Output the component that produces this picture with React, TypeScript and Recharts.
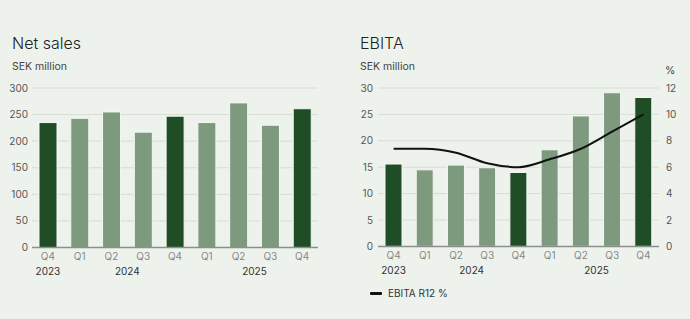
import React from 'react';
import { ComposedChart, Bar, Line, Cell, XAxis, YAxis, CartesianGrid, Legend } from 'recharts';

const quarters = ['Q4', 'Q1', 'Q2', 'Q3', 'Q4', 'Q1', 'Q2', 'Q3', 'Q4'];
const netSales = [235, 243, 255, 217, 247, 235, 272, 230, 261];
const ebita = [15.6, 14.5, 15.4, 14.9, 14.0, 18.3, 24.7, 29.1, 28.2];
const ebitaR12 = [7.4, 7.4, 7.1, 6.3, 6.0, 6.6, 7.4, 8.7, 10.0];
const yearGroups = [
  { year: '2023', first: 0, last: 0 },
  { year: '2024', first: 1, last: 4 },
  { year: '2025', first: 5, last: 8 },
];
const salesTicks = [0, 50, 100, 150, 200, 250, 300];
const ebitaTicks = [0, 5, 10, 15, 20, 25, 30];
const pctTicks = [0, 2, 4, 6, 8, 10, 12];

const salesData = quarters.map((q, i) => ({ quarter: q, value: netSales[i] }));
const ebitaData = quarters.map((q, i) => ({ quarter: q, value: ebita[i], pct: ebitaR12[i] }));

const BG = '#eef2ec';
const DARK = '#1f4d25';
const LIGHT = '#7d9a7e';
const FONT = 'Inter, "Noto Sans", sans-serif';

function makeTick(step: number) {
  return function QuarterTick(props: any) {
    const { x, y, payload, index } = props;
    const group = yearGroups.find((g) => g.first === index);
    return (
      <g>
        <text x={x} y={y} dy="0.71em" textAnchor="middle" fill="#858a85" fontSize={10} fontFamily={FONT}>
          {payload.value}
        </text>
        {group && (
          <text
            x={x + ((group.last - group.first) / 2) * step}
            y={y + 15}
            dy="0.71em"
            textAnchor="middle"
            fill="#333"
            fontSize={10}
            fontFamily={FONT}
          >
            {group.year}
          </text>
        )}
      </g>
    );
  };
}

const tickStyle = { fill: '#555', fontSize: 10, fontFamily: FONT };

function Label({ left, top, size, children }: any) {
  return (
    <div
      style={{
        position: 'absolute',
        left,
        top,
        fontSize: size,
        lineHeight: 1,
        fontFamily: FONT,
        color: size > 12 ? '#222' : '#444',
        fontWeight: size > 12 ? 300 : 400,
        whiteSpace: 'nowrap',
      }}
    >
      {children}
    </div>
  );
}

function LegendContent() {
  return (
    <div style={{ display: 'flex', alignItems: 'center', fontFamily: FONT, fontSize: 10, color: '#333' }}>
      <span style={{ display: 'inline-block', width: 12, height: 3, background: '#111', marginRight: 6, borderRadius: 1 }} />
      EBITA R12 %
    </div>
  );
}

export default function App() {
  return (
    <div style={{ position: 'absolute', left: 0, top: 0, width: 690, height: 319, background: BG, overflow: 'hidden' }}>
      <Label left={12} top={35} size={16}>Net sales</Label>
      <Label left={12} top={61.6} size={10.5}>SEK million</Label>
      <Label left={360} top={35} size={16}>EBITA</Label>
      <Label left={360} top={61.6} size={10.5}>SEK million</Label>
      <Label left={665} top={66} size={10.5}>%</Label>

      <div style={{ position: 'absolute', left: 0, top: 0 }}>
        <ComposedChart width={345} height={319} data={salesData} margin={{ top: 88, right: 27, bottom: 31.5, left: 0 }}>
          <CartesianGrid vertical={false} stroke="#d6dcd4" />
          <XAxis
            dataKey="quarter"
            height={40}
            stroke="#8d8f8c"
            strokeWidth={1.5}
            tickLine={false}
            tickSize={5}
            tickMargin={0}
            interval={0}
            tick={makeTick(286 / 9)}
          />
          <YAxis
            width={32}
            domain={[0, 300]}
            ticks={salesTicks}
            axisLine={false}
            tickLine={false}
            tickSize={2}
            tickMargin={2}
            tick={tickStyle}
          />
          <Bar dataKey="value" barSize={18} stroke="#f4f7f2" strokeWidth={1} isAnimationActive={false}>
            {salesData.map((d, i) => (
              <Cell key={i} fill={d.quarter === 'Q4' ? DARK : LIGHT} />
            ))}
          </Bar>
        </ComposedChart>
      </div>

      <div style={{ position: 'absolute', left: 345, top: 0 }}>
        <ComposedChart width={345} height={319} data={ebitaData} margin={{ top: 88, right: 0, bottom: 20.6, left: 0 }}>
          <CartesianGrid vertical={false} stroke="#d6dcd4" yAxisId="left" />
          <XAxis
            dataKey="quarter"
            height={40}
            stroke="#8d8f8c"
            strokeWidth={1.5}
            tickLine={false}
            tickSize={5}
            tickMargin={0}
            interval={0}
            tick={makeTick(281 / 9)}
          />
          <YAxis
            yAxisId="left"
            width={33}
            domain={[0, 30]}
            ticks={ebitaTicks}
            axisLine={false}
            tickLine={false}
            tickSize={3}
            tickMargin={2}
            tick={tickStyle}
          />
          <YAxis
            yAxisId="pct"
            orientation="right"
            width={31}
            domain={[0, 12]}
            ticks={pctTicks}
            axisLine={false}
            tickLine={false}
            tickSize={5}
            tickMargin={2}
            tick={tickStyle}
          />
          <Bar yAxisId="left" dataKey="value" barSize={17} stroke="#f4f7f2" strokeWidth={1} isAnimationActive={false}>
            {ebitaData.map((d, i) => (
              <Cell key={i} fill={d.quarter === 'Q4' ? DARK : LIGHT} />
            ))}
          </Bar>
          <Line
            yAxisId="pct"
            type="monotone"
            dataKey="pct"
            stroke="#111"
            strokeWidth={2}
            dot={false}
            isAnimationActive={false}
          />
          <Legend content={<LegendContent />} wrapperStyle={{ left: 25, top: 287, width: 'auto' }} />
        </ComposedChart>
      </div>
    </div>
  );
}
